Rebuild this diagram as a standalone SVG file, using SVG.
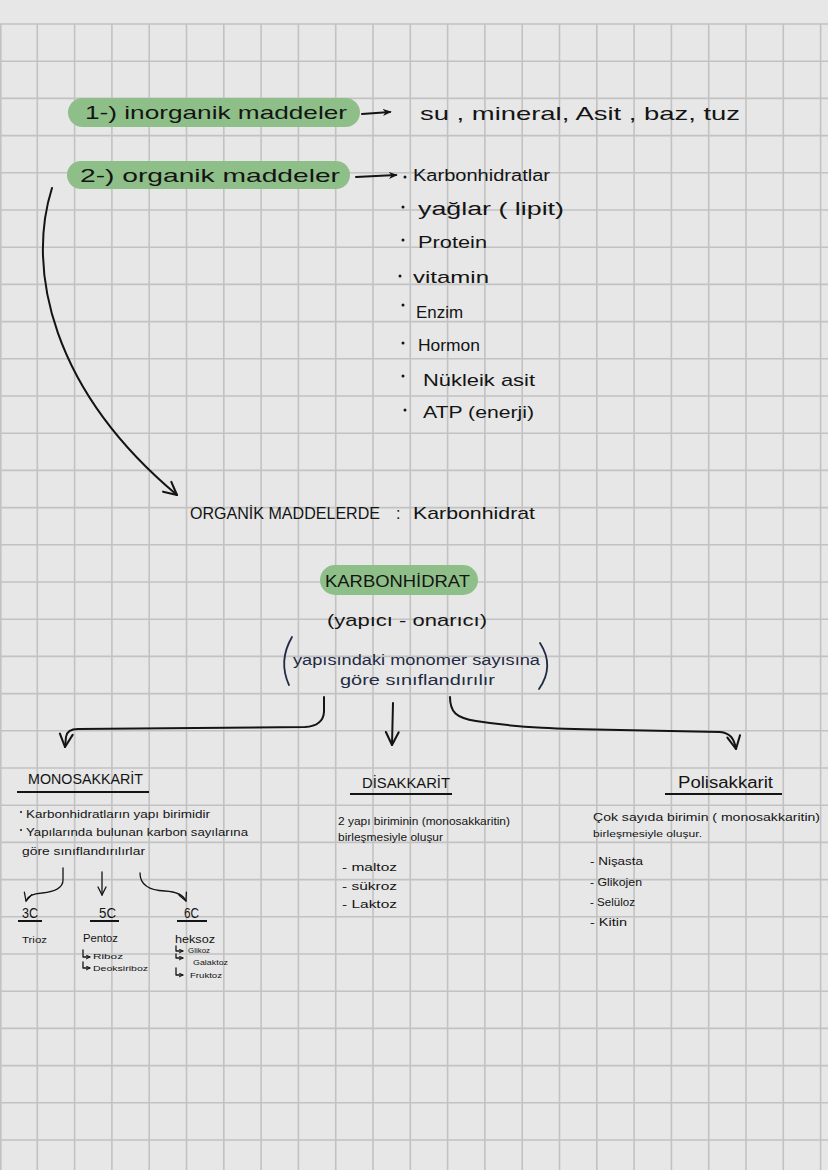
<svg xmlns="http://www.w3.org/2000/svg" width="828" height="1170" viewBox="0 0 828 1170">
<style>
.t{font-family:"Liberation Sans","DejaVu Sans",sans-serif;fill:#141414}
.b{fill:#1f2a44}
.pill{fill:#8fbf89}
.c{fill:none;stroke:#141414;stroke-width:2;stroke-linecap:round;stroke-linejoin:round}
.thin{stroke-width:1.3}
.ul{stroke:#141414;stroke-width:2}
.dot{fill:#141414}
</style>
<defs>
<marker id="tri" viewBox="0 0 10 10" refX="8" refY="5" markerUnits="userSpaceOnUse" markerWidth="9" markerHeight="9" orient="auto"><path d="M0,1 L10,5 L0,9 L3,5 Z" fill="#141414"/></marker>
<marker id="chev" viewBox="0 0 10 10" refX="9" refY="5" markerUnits="userSpaceOnUse" markerWidth="16" markerHeight="16" orient="auto"><path d="M1,1 L9,5 L1,9" fill="none" stroke="#141414" stroke-width="1.3" stroke-linecap="round" stroke-linejoin="round"/></marker>
<marker id="chevs" viewBox="0 0 10 10" refX="9" refY="5" markerUnits="userSpaceOnUse" markerWidth="10" markerHeight="10" orient="auto"><path d="M1,1 L9,5 L1,9" fill="none" stroke="#141414" stroke-width="1.3" stroke-linecap="round" stroke-linejoin="round"/></marker>
<marker id="hook" viewBox="0 0 10 10" refX="9" refY="5" markerUnits="userSpaceOnUse" markerWidth="5" markerHeight="5" orient="auto"><path d="M1,1 L9,5 L1,9" fill="none" stroke="#141414" stroke-width="2"/></marker>
</defs>
<rect width="828" height="1170" fill="#e7e7e7"/>
<g id="grid" stroke="#c2c2c2" stroke-width="1.6" fill="none">
<path d="M0,24H828M0,61.2H828M0,98.4H828M0,135.6H828M0,172.8H828M0,210H828M0,247.2H828M0,284.4H828M0,321.6H828M0,358.8H828M0,396H828M0,433.2H828M0,470.4H828M0,507.6H828M0,544.8H828M0,582H828M0,619.2H828M0,656.4H828M0,693.6H828M0,730.8H828M0,768H828M0,805.2H828M0,842.4H828M0,879.6H828M0,916.8H828M0,954H828M0,991.2H828M0,1028.4H828M0,1065.6H828M0,1102.8H828M0,1140H828"/>
<path d="M0.8,24V1170M37.3,24V1170M74.6,24V1170M111.9,24V1170M149.2,24V1170M186.5,24V1170M223.8,24V1170M261.1,24V1170M298.4,24V1170M335.7,24V1170M373,24V1170M410.3,24V1170M447.6,24V1170M484.9,24V1170M522.2,24V1170M559.5,24V1170M596.8,24V1170M634.1,24V1170M671.4,24V1170M708.7,24V1170M746,24V1170M783.3,24V1170M820.6,24V1170"/>
</g>
<g id="connectors">
<path class="c" d="M362,114 L390,112" marker-end="url(#tri)"/>
<path class="c" d="M356,177 L396,175" marker-end="url(#tri)"/>
<path class="c" d="M52,188 C26,270 52,390 177,495" marker-end="url(#chev)"/>
<path class="c" d="M324,697 L324,712 Q323,726 305,727 L78,729 Q67,729 66,737 L65,747" marker-end="url(#chev)"/>
<path class="c" d="M393,703 L392,745" marker-end="url(#chev)"/>
<path class="c" d="M450,697 C450,712 456,718 476,721 C520,728 560,729 620,730 L720,732 C730,733 734,738 736,749" marker-end="url(#chev)"/>
<path class="c thin" d="M63,868 L63,880 Q63,891 42,893 Q28,894 26,901" marker-end="url(#chevs)"/>
<path class="c thin" d="M102,872 L102,895" marker-end="url(#chevs)"/>
<path class="c thin" d="M140,873 Q140,890 165,891 Q182,892 186,901" marker-end="url(#chevs)"/>
</g>
<g id="n-inorganik">
<rect class="pill" x="68" y="98" width="292" height="29" rx="14.5"/>
<text class="t" x="85" y="119" font-size="19" textLength="262" lengthAdjust="spacingAndGlyphs">1-) inorganik  maddeler</text>
</g>
<g id="n-inorganik-list">
<text class="t" x="420" y="120" font-size="19" textLength="320" lengthAdjust="spacingAndGlyphs">su , mineral,  Asit , baz,  tuz</text>
</g>
<g id="n-organik">
<rect class="pill" x="67" y="161" width="283" height="28" rx="14"/>
<text class="t" x="80" y="182" font-size="19" textLength="260" lengthAdjust="spacingAndGlyphs">2-) organik   maddeler</text>
</g>
<g id="n-organik-list">
<circle class="dot" cx="405" cy="177" r="1.5"/>
<text class="t" x="413" y="181" font-size="16" textLength="137" lengthAdjust="spacingAndGlyphs">Karbonhidratlar</text>
<circle class="dot" cx="403" cy="207" r="1.5"/>
<text class="t" x="418" y="215" font-size="18" textLength="146" lengthAdjust="spacingAndGlyphs">yağlar  ( lipit)</text>
<circle class="dot" cx="403" cy="240" r="1.5"/>
<text class="t" x="418" y="248" font-size="17" textLength="69" lengthAdjust="spacingAndGlyphs">Protein</text>
<circle class="dot" cx="400" cy="276" r="1.5"/>
<text class="t" x="413" y="283" font-size="17" textLength="76" lengthAdjust="spacingAndGlyphs">vitamin</text>
<circle class="dot" cx="403" cy="305" r="1.5"/>
<text class="t" x="416" y="318" font-size="17" textLength="47" lengthAdjust="spacingAndGlyphs">Enzim</text>
<circle class="dot" cx="403" cy="343" r="1.5"/>
<text class="t" x="418" y="351" font-size="17" textLength="62" lengthAdjust="spacingAndGlyphs">Hormon</text>
<circle class="dot" cx="403" cy="376" r="1.5"/>
<text class="t" x="423" y="386" font-size="17" textLength="112" lengthAdjust="spacingAndGlyphs">Nükleik  asit</text>
<circle class="dot" cx="405" cy="410" r="1.5"/>
<text class="t" x="423" y="418" font-size="17" textLength="111" lengthAdjust="spacingAndGlyphs">ATP  (enerji)</text>
</g>
<g id="n-organik-maddelerde">
<text class="t" x="190" y="519" font-size="16" textLength="190" lengthAdjust="spacingAndGlyphs">ORGANİK MADDELERDE</text>
<text class="t" x="396" y="519" font-size="16">:</text>
<text class="t" x="413" y="519" font-size="17" textLength="122" lengthAdjust="spacingAndGlyphs">Karbonhidrat</text>
</g>
<g id="n-karbonhidrat">
<rect class="pill" x="320" y="565" width="158" height="30" rx="15"/>
<text class="t" x="325" y="587" font-size="17" textLength="145" lengthAdjust="spacingAndGlyphs">KARBONHİDRAT</text>
<text class="t" x="327" y="626" font-size="17" textLength="160" lengthAdjust="spacingAndGlyphs">(yapıcı - onarıcı)</text>
<path d="M292,637 Q278,661 289,685" fill="none" stroke="#1f2a44" stroke-width="1.8" stroke-linecap="round"/>
<path d="M540,643 Q555,666 539,689" fill="none" stroke="#1f2a44" stroke-width="1.8" stroke-linecap="round"/>
<text class="t b" x="293" y="665" font-size="14" textLength="247" lengthAdjust="spacingAndGlyphs">yapısındaki  monomer  sayısına</text>
<text class="t b" x="340" y="685" font-size="14" textLength="155" lengthAdjust="spacingAndGlyphs">göre  sınıflandırılır</text>
</g>
<g id="n-monosakkarit">
<text class="t" x="28" y="784" font-size="14" textLength="115" lengthAdjust="spacingAndGlyphs">MONOSAKKARİT</text>
<path class="ul" d="M17,792 L149,792"/>
<circle class="dot" cx="21" cy="812" r="1"/>
<text class="t" x="26" y="818" font-size="10" textLength="184" lengthAdjust="spacingAndGlyphs">Karbonhidratların  yapı  birimidir</text>
<circle class="dot" cx="21" cy="830" r="1"/>
<text class="t" x="26" y="836" font-size="10" textLength="222" lengthAdjust="spacingAndGlyphs">Yapılarında  bulunan  karbon  sayılarına</text>
<text class="t" x="22" y="855" font-size="10" textLength="123" lengthAdjust="spacingAndGlyphs">göre  sınıflandırılırlar</text>
</g>
<g id="n-3c">
<text class="t" x="22" y="918" font-size="14" textLength="16" lengthAdjust="spacingAndGlyphs">3C</text>
<path class="ul" d="M18,921 L42,921" stroke-width="1.5"/>
<text class="t" x="22" y="943" font-size="9" textLength="25" lengthAdjust="spacingAndGlyphs">Trioz</text>
</g>
<g id="n-5c">
<text class="t" x="99" y="918" font-size="14" textLength="17" lengthAdjust="spacingAndGlyphs">5C</text>
<path class="ul" d="M90,921 L119,921" stroke-width="1.5"/>
<text class="t" x="83" y="942" font-size="10" textLength="35" lengthAdjust="spacingAndGlyphs">Pentoz</text>
<path class="c thin" d="M83,950 L83,957 L90,957" marker-end="url(#hook)"/>
<text class="t" x="93" y="959" font-size="8" textLength="30" lengthAdjust="spacingAndGlyphs">Riboz</text>
<path class="c thin" d="M83,962 L83,968 L90,968" marker-end="url(#hook)"/>
<text class="t" x="93" y="971" font-size="8" textLength="55" lengthAdjust="spacingAndGlyphs">Deoksiriboz</text>
</g>
<g id="n-6c">
<text class="t" x="184" y="918" font-size="14" textLength="15" lengthAdjust="spacingAndGlyphs">6C</text>
<path class="ul" d="M177,921 L207,921" stroke-width="1.5"/>
<text class="t" x="175" y="943" font-size="10" textLength="40" lengthAdjust="spacingAndGlyphs">heksoz</text>
<path class="c thin" d="M176,946 L176,951 L183,951" marker-end="url(#hook)"/>
<text class="t" x="188" y="953" font-size="8" textLength="22" lengthAdjust="spacingAndGlyphs">Glikoz</text>
<path class="c thin" d="M176,954 L176,958 L183,958" marker-end="url(#hook)"/>
<text class="t" x="193" y="965" font-size="8" textLength="35" lengthAdjust="spacingAndGlyphs">Galaktoz</text>
<path class="c thin" d="M176,968 L176,975 L183,975" marker-end="url(#hook)"/>
<text class="t" x="190" y="978" font-size="8" textLength="32" lengthAdjust="spacingAndGlyphs">Fruktoz</text>
</g>
<g id="n-disakkarit">
<text class="t" x="362" y="788" font-size="14" textLength="88" lengthAdjust="spacingAndGlyphs">DİSAKKARİT</text>
<path class="ul" d="M350,794 L452,794"/>
<text class="t" x="338" y="825" font-size="10" textLength="172" lengthAdjust="spacingAndGlyphs">2  yapı  biriminin  (monosakkaritin)</text>
<text class="t" x="338" y="841" font-size="10" textLength="105" lengthAdjust="spacingAndGlyphs">birleşmesiyle  oluşur</text>
<text class="t" x="342" y="871" font-size="10" textLength="55" lengthAdjust="spacingAndGlyphs">-  maltoz</text>
<text class="t" x="342" y="890" font-size="10" textLength="55" lengthAdjust="spacingAndGlyphs">-  sükroz</text>
<text class="t" x="342" y="908" font-size="10" textLength="55" lengthAdjust="spacingAndGlyphs">-  Laktoz</text>
</g>
<g id="n-polisakkarit">
<text class="t" x="678" y="788" font-size="16" textLength="95" lengthAdjust="spacingAndGlyphs">Polisakkarit</text>
<path class="ul" d="M665,794 L782,794"/>
<text class="t" x="593" y="821" font-size="10" textLength="227" lengthAdjust="spacingAndGlyphs">Çok  sayıda  birimin  ( monosakkaritin)</text>
<text class="t" x="593" y="837" font-size="9" textLength="109" lengthAdjust="spacingAndGlyphs">birleşmesiyle  oluşur.</text>
<text class="t" x="590" y="865" font-size="10" textLength="53" lengthAdjust="spacingAndGlyphs">- Nişasta</text>
<text class="t" x="590" y="886" font-size="10" textLength="52" lengthAdjust="spacingAndGlyphs">- Glikojen</text>
<text class="t" x="590" y="906" font-size="10" textLength="45" lengthAdjust="spacingAndGlyphs">- Selüloz</text>
<text class="t" x="590" y="926" font-size="10" textLength="37" lengthAdjust="spacingAndGlyphs">- Kitin</text>
</g>
</svg>
